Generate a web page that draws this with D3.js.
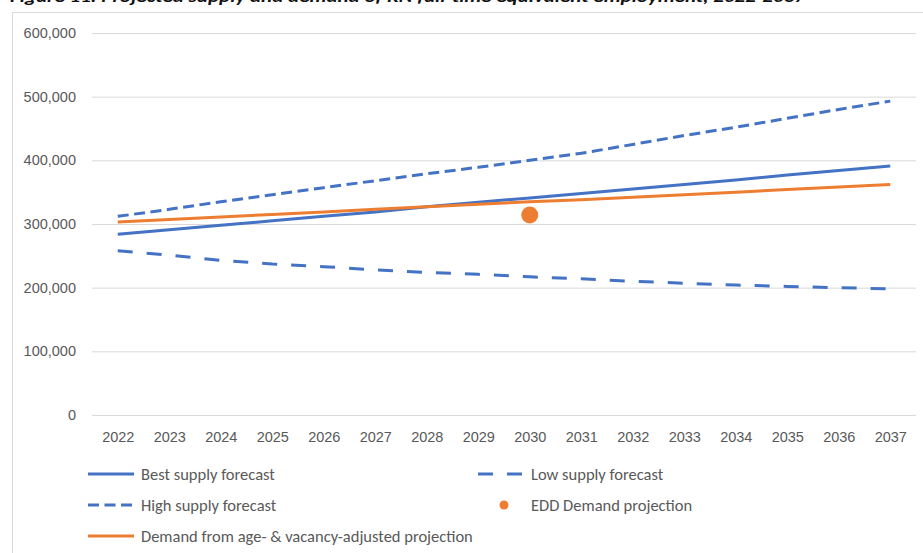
<!DOCTYPE html>
<head>
  <meta charset="utf-8">
  <script src="https://d3js.org/d3.v7.min.js"></script>
  <style>
  body { margin: 0; background: #fff; }
  svg { font-family: "Carlito", "Liberation Sans Narrow", "DejaVu Sans Condensed", sans-serif; }
  .tick text { fill: #595959; font-size: 14.5px; }
  .grid line { stroke: #d9d9d9; stroke-width: 1px; }
  .legend text { fill: #595959; font-size: 16.5px; }
  </style>
</head>

<body>
  <script>
    // chart data
    var years = ["2022","2023","2024","2025","2026","2027","2028","2029","2030","2031","2032","2033","2034","2035","2036","2037"];
    var bestSupply = [284000,291000,298000,305000,312000,319000,327000,334000,341000,348000,355000,362000,369000,377000,384000,391000];
    var lowSupply  = [258000,251000,243000,237000,233000,228000,224000,221000,217000,214000,210000,207000,204000,202000,200000,198000];
    var highSupply = [312000,323000,335000,346000,357000,368000,379000,389000,400000,411000,425000,439000,452000,466000,480000,493000];
    var ageDemand  = [303000,307000,311000,315000,319000,323000,327000,331000,335000,338000,342000,346000,350000,354000,358000,362000];
    var eddDemand  = [{year: "2030", value: 314000}];
    var yTicks = [0,100000,200000,300000,400000,500000,600000];

    var width = 923, height = 553;
    var plotLeft = 92, plotRight = 916, plotTop = 33, plotBottom = 415;

    var svg = d3.select("body").append("svg")
        .attr("width", width)
        .attr("height", height);

    // title, cut off at the top of the picture
    svg.append("text")
      .attr("x", 10)
      .attr("y", 2)
      .attr("font-size", "15px")
      .attr("font-weight", "bold")
      .attr("font-style", "italic")
      .attr("fill", "#111")
      .attr("textLength", 795)
      .attr("lengthAdjust", "spacingAndGlyphs")
      .text("Figure 11. Projected supply and demand of RN full-time equivalent employment, 2022-2037");

    // chart border
    svg.append("rect")
      .attr("x", 12.5).attr("y", 12.5)
      .attr("width", 940).attr("height", 560)
      .attr("fill", "none")
      .attr("stroke", "#d9d9d9");

    var x = d3.scalePoint()
        .domain(years)
        .range([plotLeft, plotRight])
        .padding(0.5);

    var y = d3.scaleLinear()
        .domain([0, 600000])
        .range([plotBottom, plotTop]);

    // gridlines
    svg.append("g")
      .attr("class", "grid")
      .attr("transform", "translate(" + plotLeft + ",0)")
      .call(d3.axisLeft(y).tickValues(yTicks).tickSize(-(plotRight - plotLeft)).tickFormat(""))
      .call(function(g) { g.select(".domain").remove(); });

    // y axis labels
    svg.append("g")
      .attr("transform", "translate(" + (plotLeft - 13) + ",0)")
      .call(d3.axisLeft(y).tickValues(yTicks).tickSize(0).tickFormat(d3.format(",")))
      .call(function(g) { g.select(".domain").remove(); });

    // x axis labels
    svg.append("g")
      .attr("transform", "translate(0," + (plotBottom + 14) + ")")
      .call(d3.axisBottom(x).tickSize(0))
      .call(function(g) { g.select(".domain").remove(); });

    var line = d3.line()
        .x(function(d, i) { return x(years[i]); })
        .y(function(d) { return y(d); });

    var series = [
      {name: "Low supply forecast", data: lowSupply, color: "#4472c4", dash: "15,14"},
      {name: "High supply forecast", data: highSupply, color: "#4472c4", dash: "11,5.5"},
      {name: "Best supply forecast", data: bestSupply, color: "#4472c4", dash: null},
      {name: "Demand from age- & vacancy-adjusted projection", data: ageDemand, color: "#ed7d31", dash: null}
    ];

    series.forEach(function(s) {
      svg.append("path")
        .datum(s.data)
        .attr("fill", "none")
        .attr("stroke", s.color)
        .attr("stroke-width", 3)
        .attr("stroke-dasharray", s.dash)
        .attr("d", line);
    });

    svg.selectAll(".edd")
      .data(eddDemand)
      .enter().append("circle")
      .attr("cx", function(d) { return x(d.year); })
      .attr("cy", function(d) { return y(d.value); })
      .attr("r", 8.5)
      .attr("fill", "#ed7d31");

    // legend
    var legend = [
      {name: "Best supply forecast", color: "#4472c4", dash: null, lx: 88, ly: 474},
      {name: "Low supply forecast", color: "#4472c4", dash: "15,14", lx: 478, ly: 474},
      {name: "High supply forecast", color: "#4472c4", dash: "11,5.5", lx: 88, ly: 505},
      {name: "EDD Demand projection", color: "#ed7d31", dot: true, lx: 478, ly: 505},
      {name: "Demand from age- & vacancy-adjusted projection", color: "#ed7d31", dash: null, lx: 88, ly: 536}
    ];

    var lg = svg.append("g").attr("class", "legend");
    legend.forEach(function(l) {
      if (l.dot) {
        lg.append("circle")
          .attr("cx", l.lx + 26).attr("cy", l.ly)
          .attr("r", 4.5)
          .attr("fill", l.color);
      } else {
        lg.append("line")
          .attr("x1", l.lx).attr("x2", l.lx + 46)
          .attr("y1", l.ly).attr("y2", l.ly)
          .attr("stroke", l.color)
          .attr("stroke-width", 3)
          .attr("stroke-dasharray", l.dash);
      }
      lg.append("text")
        .attr("x", l.lx + 53)
        .attr("y", l.ly)
        .attr("dy", "0.35em")
        .text(l.name);
    });
  </script>
</body>
